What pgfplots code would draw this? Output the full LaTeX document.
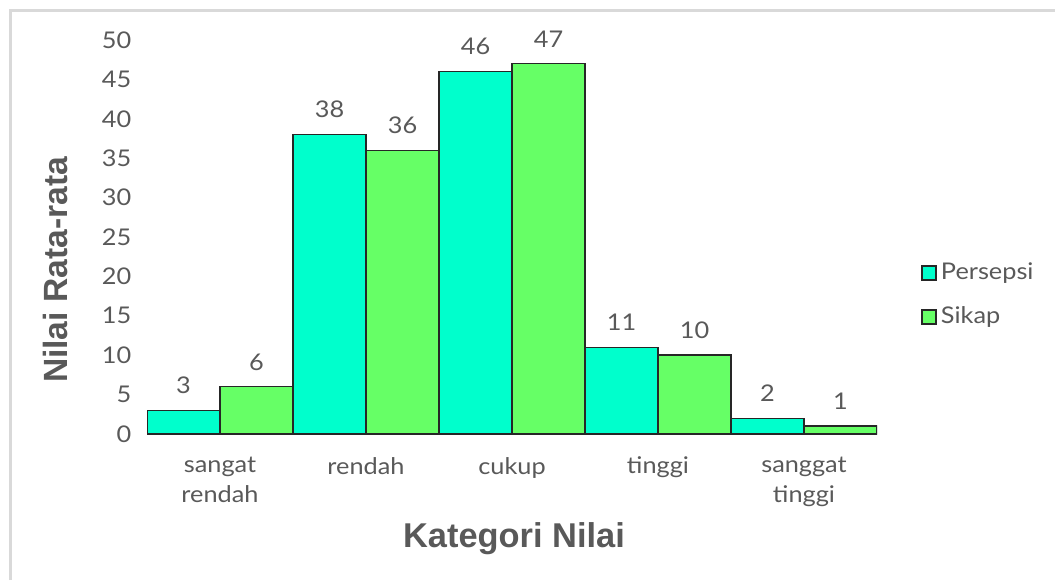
\documentclass[border=0pt]{standalone}
\usepackage{fontspec}
\setmainfont{Lato}[FakeStretch=1.1]
\newfontfamily\arialfont{Liberation Sans}
\usepackage{pgfplots}
\pgfplotsset{compat=1.18}

\definecolor{persepsi}{HTML}{00FFCC}
\definecolor{sikap}{HTML}{66FF66}
\definecolor{txt}{HTML}{595959}
\definecolor{frame}{HTML}{D9D9D9}
\definecolor{edge}{HTML}{262626}

\begin{document}
\begin{tikzpicture}
  % page in reference pixels: 1px = 0.5pt, origin top-left, y downwards negative
  \useasboundingbox (0pt,0pt) rectangle (527.5pt,-290pt);
  \draw[frame, line width=1.5pt] (5.25pt,-290pt) -- (5.25pt,-5.25pt) -- (527.5pt,-5.25pt);

  \begin{axis}[
      at={(73.5pt,-217pt)}, anchor=south west,
      scale only axis,
      width=365pt, height=197pt,
      ybar=0pt, bar width=0.5,
      xmin=-0.5, xmax=4.5,
      ymin=0, ymax=50,
      ytick={0,5,...,50},
      xtick={0,1,2,3,4},
      xticklabels={{sangat\\rendah},rendah,cukup,tinggi,{sanggat\\tinggi}},
      axis line style={draw=none},
      major tick length=0pt,
      /pgf/number format/assume math mode=true,
      tick label style={font=\fontsize{11.5}{15}\selectfont, text=txt},
      yticklabel style={xshift=-4.3pt},
      xticklabel style={align=center, yshift=-8pt},
      nodes near coords,
      nodes near coords style={font=\fontsize{11.5}{14}\selectfont, text=txt, anchor=base, yshift=8.3pt},
      legend style={draw=none, fill=none, at={(axis description cs:1.052,0.455)}, anchor=north west,
        font=\fontsize{11.5}{14}\selectfont, text=txt, row sep=8pt,
        legend cell align=left},
      legend image code/.code={\draw[#1, line width=0.8pt] (0pt,-3.5pt) rectangle (7pt,3.5pt);},
    ]
    \addplot[fill=persepsi, draw=edge, line width=0.75pt] coordinates {
      (0,3) (1,38) (2,46) (3,11) (4,2)
    };
    \addplot[fill=sikap, draw=edge, line width=0.75pt] coordinates {
      (0,6) (1,36) (2,47) (3,10) (4,1)
    };
    \legend{Persepsi,Sikap}
  \end{axis}

  \node[rotate=90, anchor=base, text=txt, font=\arialfont\bfseries\fontsize{16.8}{20}\selectfont] at (34pt,-135pt) {Nilai Rata-rata};
  \node[anchor=base, text=txt, font=\arialfont\bfseries\fontsize{17.2}{20}\selectfont] at (257pt,-273.5pt) {Kategori Nilai};
\end{tikzpicture}
\end{document}
